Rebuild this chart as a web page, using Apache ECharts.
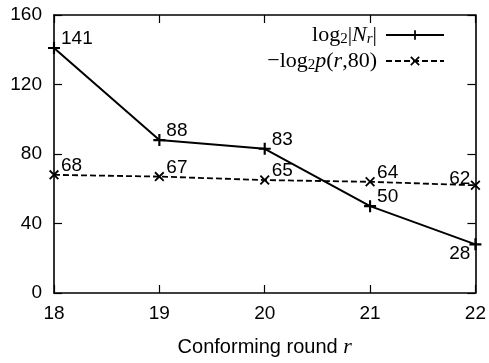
<!DOCTYPE html>
<html>
<head>
<meta charset="utf-8">
<script src="https://cdn.jsdelivr.net/npm/echarts@6/dist/echarts.min.js"></script>
<style>
  html, body { margin: 0; padding: 0; background: #fff; }
  #chart { width: 489px; height: 363px; }
</style>
</head>
<body>
<div id="chart"></div>
<script>
// conforming rounds r
const rounds = [18, 19, 20, 21, 22];
// log2 |N_r|
const logNr = [141, 88, 83, 50, 28];
// -log2 p(r, 80)
const logP = [68, 67, 65, 64, 62];

const plusPath = 'path://M0,4.1h10v1.8h-10zM4.1,0h1.8v10h-1.8z';
const crossPath = 'path://M0,1.3L1.3,0L10,8.7L8.7,10Z M8.7,0L10,1.3L1.3,10L0,8.7Z';

const sans = '"Liberation Sans", Arial, sans-serif';
const serif = '"Liberation Serif", "Times New Roman", serif';

const chart = echarts.init(document.getElementById('chart'));

const tick = () => ({ show: true, inside: true, length: 8, lineStyle: { color: '#000', width: 1.2 } });
const frame = () => ({ show: true, onZero: false, lineStyle: { color: '#000', width: 1.6 } });

// place value labels: up-right of the point, except where the reference puts them left
const placeLabel = (below) => (p) => {
    const cx = p.rect.x + p.rect.width / 2;
    const cy = p.rect.y + p.rect.height / 2;
    if (p.dataIndex === rounds.length - 1) {
        return { x: cx - 5, y: below ? cy + 9 : cy - 7, align: 'right', verticalAlign: 'middle' };
    }
    return { x: cx + 7, y: cy - 9, align: 'left', verticalAlign: 'middle' };
};

const valueLabel = { show: true, position: 'top', fontFamily: sans, fontSize: 19, color: '#000' };

chart.setOption({
    animation: false,
    grid: { left: 54, right: 13, top: 15, bottom: 66 },
    legend: {
        right: 39,
        top: 18,
        orient: 'vertical',
        align: 'right',
        itemWidth: 58,
        itemHeight: 12,
        itemGap: 2,
        data: ['nr', 'p'],
        formatter: (name) => name === 'nr'
            ? 'log{s|2}|{i|N}{si|r}|'
            : '\u2212log{s|2}{i|p}({i|r},80)',
        textStyle: {
            fontFamily: serif,
            fontSize: 22,
            lineHeight: 24,
            color: '#000',
            padding: [0, 4, 0, 0],
            rich: {
                s: { fontFamily: serif, fontSize: 15, lineHeight: 12, verticalAlign: 'bottom', color: '#000' },
                si: { fontFamily: serif, fontSize: 15, lineHeight: 12, fontStyle: 'italic', verticalAlign: 'bottom', color: '#000' },
                i: { fontFamily: serif, fontSize: 22, lineHeight: 24, fontStyle: 'italic', color: '#000' },
            },
        },
    },
    xAxis: [
        {
            type: 'value',
            min: 18,
            max: 22,
            interval: 1,
            axisLine: frame(),
            axisTick: tick(),
            splitLine: { show: false },
            axisLabel: { fontFamily: sans, fontSize: 19, color: '#000', margin: 11 },
            name: 'Conforming round {i|r}',
            nameLocation: 'middle',
            nameGap: 43,
            nameTextStyle: {
                fontFamily: sans,
                fontSize: 20,
                color: '#000',
                rich: { i: { fontFamily: serif, fontStyle: 'italic', fontSize: 22, color: '#000' } },
            },
        },
        {
            type: 'value',
            position: 'top',
            min: 18,
            max: 22,
            interval: 1,
            axisLine: frame(),
            axisTick: tick(),
            axisLabel: { show: false },
            splitLine: { show: false },
        },
    ],
    yAxis: [
        {
            type: 'value',
            min: 0,
            max: 160,
            interval: 40,
            axisLine: frame(),
            axisTick: tick(),
            splitLine: { show: false },
            axisLabel: { fontFamily: sans, fontSize: 19, color: '#000', margin: 12 },
        },
        {
            type: 'value',
            position: 'right',
            min: 0,
            max: 160,
            interval: 40,
            axisLine: frame(),
            axisTick: tick(),
            axisLabel: { show: false },
            splitLine: { show: false },
        },
    ],
    series: [
        {
            name: 'nr',
            type: 'line',
            data: rounds.map((r, i) => [r, logNr[i]]),
            symbol: plusPath,
            symbolSize: 12,
            itemStyle: { color: '#000' },
            lineStyle: { color: '#000', width: 2 },
            label: valueLabel,
            labelLayout: placeLabel(true),
            z: 3,
        },
        {
            name: 'p',
            type: 'line',
            data: rounds.map((r, i) => [r, logP[i]]),
            symbol: crossPath,
            symbolSize: 10,
            itemStyle: { color: '#000' },
            lineStyle: { color: '#000', width: 1.8, type: [6, 3] },
            label: valueLabel,
            labelLayout: placeLabel(false),
            z: 2,
        },
    ],
});
</script>
</body>
</html>
